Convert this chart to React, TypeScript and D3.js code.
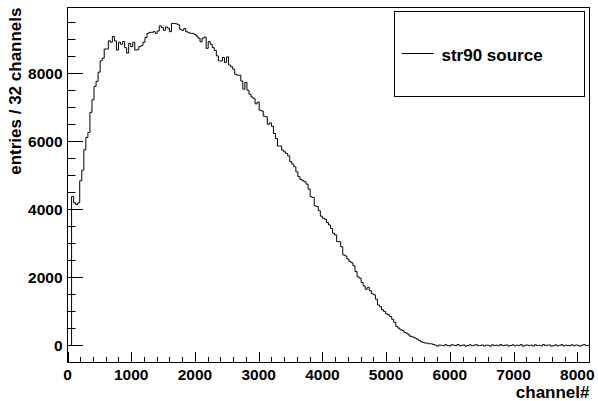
import { useMemo } from 'react';
import * as d3 from 'd3';

// entries per bin (32 channels each, 256 bins)
const counts: number[] = [
  0, 0, 4380, 4190, 4140, 4190, 4840, 5150, 5750, 6110,
  6260, 6850, 7220, 7610, 7760, 8030, 8360, 8440, 8710, 8710,
  8950, 8910, 9080, 8950, 8680, 8910, 8850, 8930, 8750, 8590,
  8880, 8780, 8910, 8680, 8690, 8780, 8810, 8910, 9050, 9170,
  9200, 9200, 9220, 9170, 9240, 9390, 9340, 9260, 9360, 9320,
  9220, 9460, 9460, 9450, 9420, 9290, 9260, 9310, 9220, 9190,
  9170, 9170, 9140, 9090, 9030, 8920, 9030, 9060, 8730, 8930,
  8850, 8750, 8670, 8510, 8360, 8360, 8460, 8310, 8480, 8240,
  8190, 8120, 7970, 7940, 7940, 7770, 7530, 7730, 7500, 7380,
  7300, 7250, 7100, 7150, 6910, 6890, 6740, 6720, 6500, 6540,
  6440, 6230, 6080, 5860, 5860, 5740, 5690, 5640, 5570, 5400,
  5330, 5250, 5100, 4960, 4880, 4840, 4810, 4740, 4590, 4370,
  4350, 4100, 4080, 3960, 3800, 3740, 3710, 3610, 3540, 3440,
  3300, 3250, 3050, 3050, 2900, 2660, 2630, 2540, 2470, 2430,
  2340, 2170, 2020, 1980, 1850, 1750, 1650, 1710, 1610, 1520,
  1490, 1360, 1190, 1140, 1050, 1000, 930, 900, 850, 770,
  680, 560, 510, 460, 440, 380, 360, 310, 260, 250,
  220, 190, 150, 110, 90, 70, 70, 50, 50, 30,
  10, -20, 15, 5, -10, 25, 0, -15, 20, 10,
  -5, 30, -10, 5, 15, -20, 0, 20, -10, 10,
  25, -5, 0, 15, -15, 10, 5, -20, 20, 0,
  10, -10, 30, -5, 5, 15, -15, 0, 20, -10,
  10, 0, 25, -20, 5, 15, -5, 10, -15, 20,
  0, 5, -10, 30, -5, 10, 15, -20, 0, 20,
  -10, 5, 25, -15, 10, 0, -5, 20, -10, 15,
  5, -20, 10, 25, -5, 0,
];

const binWidth = 32;
const nChannels = 8192;

const xTicks = [0, 1000, 2000, 3000, 4000, 5000, 6000, 7000, 8000];
const yTicks = [0, 2000, 4000, 6000, 8000];

const xTitle = 'channel#';
const yTitle = 'entries / 32 channels';
const legendLabel = 'str90 source';

function App() {
  const width = 598;
  const height = 401;

  const frameLeft = 67.5;
  const frameRight = 589.5;
  const frameTop = 7.5;
  const frameBottom = 362.5;

  const font = '"Liberation Sans", Arial, Helvetica, sans-serif';

  const xScale = d3.scaleLinear()
    .domain([0, nChannels])
    .range([frameLeft, frameRight]);

  const yScale = d3.scaleLinear()
    .domain([-500, 9930])
    .range([frameBottom, frameTop]);

  const path = useMemo(() => {
    const pts: [number, number][] = counts.map((c, i) => [i * binWidth, c]);
    pts.push([counts.length * binWidth, counts[counts.length - 1]]);
    const line = d3.line<[number, number]>()
      .x(d => xScale(d[0]))
      .y(d => yScale(d[1]))
      .curve(d3.curveStepAfter);
    return line(pts) || '';
  }, []);

  const xMinor = d3.range(0, nChannels + 1, 200);
  const yMinor = d3.range(0, 9930, 500);

  return (
    <svg
      width={width}
      height={height}
      viewBox={`0 0 ${width} ${height}`}
      style={{ position: 'absolute', left: 0, top: 0, background: 'white' }}
    >
      <rect x={0} y={0} width={width} height={height} fill="white" />

      {/* histogram */}
      <path d={path} fill="none" stroke="black" strokeWidth={1} />

      {/* frame */}
      <rect
        x={frameLeft}
        y={frameTop}
        width={frameRight - frameLeft}
        height={frameBottom - frameTop}
        fill="none"
        stroke="black"
        strokeWidth={1}
      />

      {/* x ticks */}
      <g stroke="black" strokeWidth={1}>
        {xMinor.map(t => {
          const x = Math.round(xScale(t)) + 0.5;
          const major = t % 1000 === 0;
          return <line key={t} x1={x} x2={x} y1={frameBottom} y2={frameBottom - (major ? 10.5 : 5.5)} />;
        })}
      </g>
      <g fontFamily={font} fontWeight="bold" fontSize={15.5} textAnchor="middle">
        {xTicks.map(t => (
          <text key={t} x={xScale(t)} y={380}>{t}</text>
        ))}
      </g>
      <text x={frameRight} y={398} textAnchor="end" fontFamily={font} fontWeight="bold" fontSize={17}>{xTitle}</text>

      {/* y ticks */}
      <g stroke="black" strokeWidth={1}>
        {yMinor.map(t => {
          const y = Math.round(yScale(t)) + 0.5;
          const major = t % 2000 === 0;
          return <line key={t} x1={frameLeft} x2={frameLeft + (major ? 15.5 : 8)} y1={y} y2={y} />;
        })}
      </g>
      <g fontFamily={font} fontWeight="bold" fontSize={15.5} textAnchor="end">
        {yTicks.map(t => (
          <text key={t} x={62.5} y={yScale(t) + 5.5}>{t}</text>
        ))}
      </g>
      <text
        transform={`translate(20.5, ${frameTop}) rotate(-90)`}
        textAnchor="end"
        fontFamily={font}
        fontWeight="bold"
        fontSize={17}
      >{yTitle}</text>

      {/* legend */}
      <rect x={394.5} y={11.5} width={190} height={85} fill="white" stroke="black" strokeWidth={1} />
      <line x1={401.5} x2={433.5} y1={53.5} y2={53.5} stroke="black" strokeWidth={1} />
      <text x={441.5} y={61} fontFamily={font} fontWeight="bold" fontSize={17}>{legendLabel}</text>
    </svg>
  );
}

export default App;
